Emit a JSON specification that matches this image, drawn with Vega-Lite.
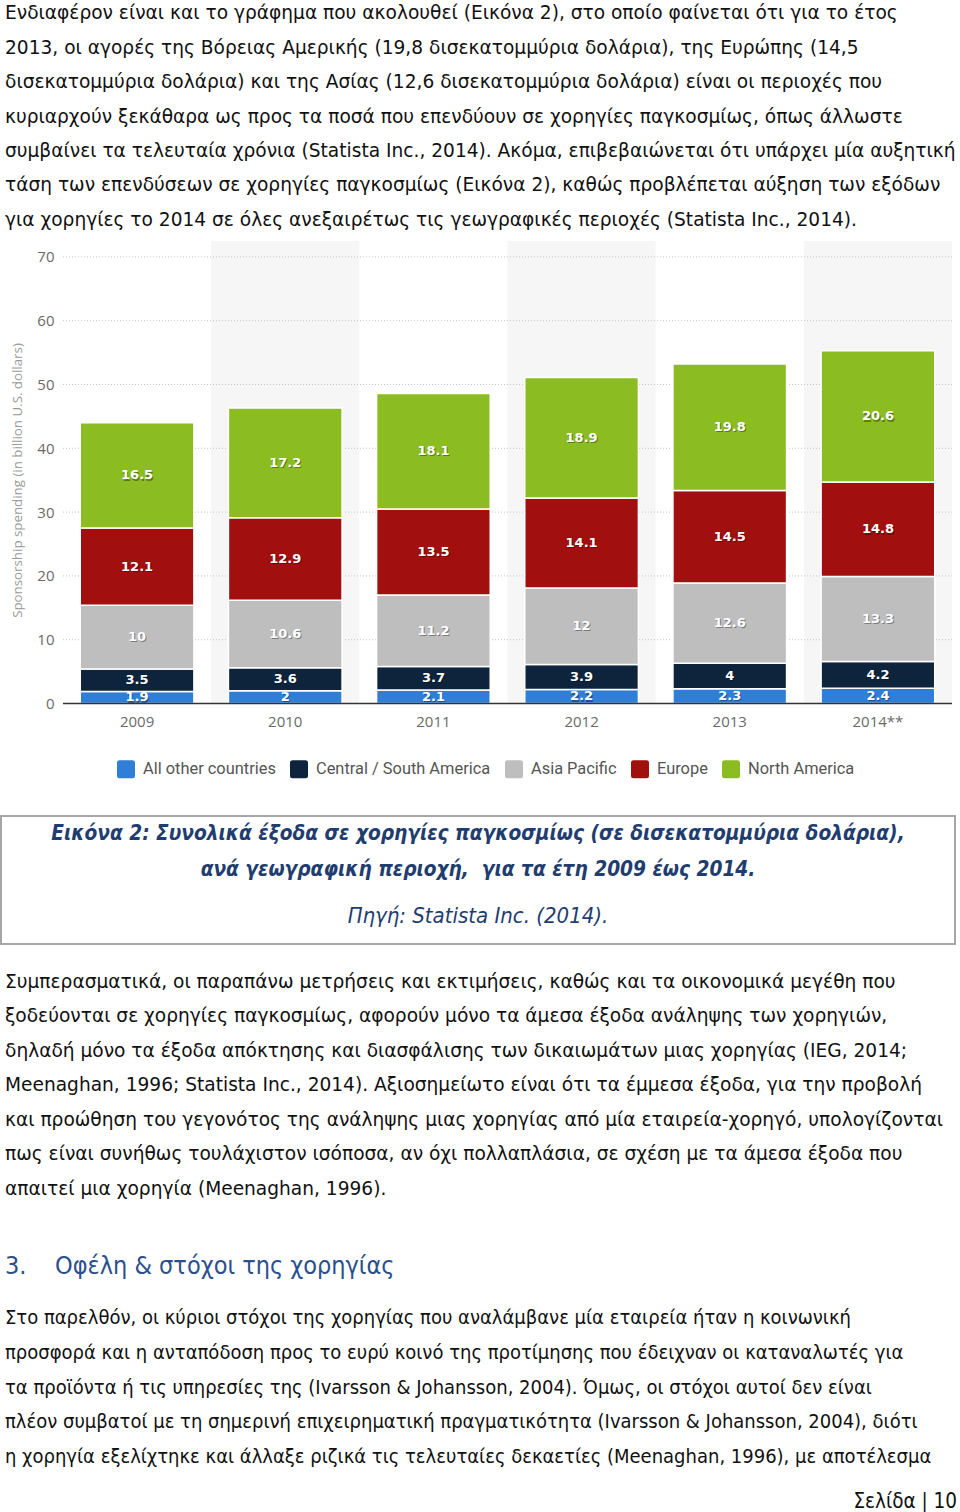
{
  "$schema": "https://vega.github.io/schema/vega-lite/v6.json",
  "background": "white",
  "padding": 0,
  "columns": 1,
  "spacing": 0,
  "resolve": {"scale": {"color": "independent"}, "legend": {"color": "independent"}},
  "config": {"view": {"stroke": null}},
  "datasets": {
    "spend": [
      {"year": "2009", "region": "All other countries", "value": 1.9},
      {"year": "2009", "region": "Central / South America", "value": 3.5},
      {"year": "2009", "region": "Asia Pacific", "value": 10},
      {"year": "2009", "region": "Europe", "value": 12.1},
      {"year": "2009", "region": "North America", "value": 16.5},
      {"year": "2010", "region": "All other countries", "value": 2},
      {"year": "2010", "region": "Central / South America", "value": 3.6},
      {"year": "2010", "region": "Asia Pacific", "value": 10.6},
      {"year": "2010", "region": "Europe", "value": 12.9},
      {"year": "2010", "region": "North America", "value": 17.2},
      {"year": "2011", "region": "All other countries", "value": 2.1},
      {"year": "2011", "region": "Central / South America", "value": 3.7},
      {"year": "2011", "region": "Asia Pacific", "value": 11.2},
      {"year": "2011", "region": "Europe", "value": 13.5},
      {"year": "2011", "region": "North America", "value": 18.1},
      {"year": "2012", "region": "All other countries", "value": 2.2},
      {"year": "2012", "region": "Central / South America", "value": 3.9},
      {"year": "2012", "region": "Asia Pacific", "value": 12},
      {"year": "2012", "region": "Europe", "value": 14.1},
      {"year": "2012", "region": "North America", "value": 18.9},
      {"year": "2013", "region": "All other countries", "value": 2.3},
      {"year": "2013", "region": "Central / South America", "value": 4},
      {"year": "2013", "region": "Asia Pacific", "value": 12.6},
      {"year": "2013", "region": "Europe", "value": 14.5},
      {"year": "2013", "region": "North America", "value": 19.8},
      {"year": "2014**", "region": "All other countries", "value": 2.4},
      {"year": "2014**", "region": "Central / South America", "value": 4.2},
      {"year": "2014**", "region": "Asia Pacific", "value": 13.3},
      {"year": "2014**", "region": "Europe", "value": 14.8},
      {"year": "2014**", "region": "North America", "value": 20.6}
    ]
  },
  "concat": [
    {
      "width": 958,
      "height": 240.8,
      "data": {"values": [
        {"line": 1, "text": "Ενδιαφέρον είναι και το γράφημα που ακολουθεί (Εικόνα 2), στο οποίο φαίνεται ότι για το έτος"},
        {"line": 2, "text": "2013, οι αγορές της Βόρειας Αμερικής (19,8 δισεκατομμύρια δολάρια), της Ευρώπης (14,5"},
        {"line": 3, "text": "δισεκατομμύρια δολάρια) και της Ασίας (12,6 δισεκατομμύρια δολάρια) είναι οι περιοχές που"},
        {"line": 4, "text": "κυριαρχούν ξεκάθαρα ως προς τα ποσά που επενδύουν σε χορηγίες παγκοσμίως, όπως άλλωστε"},
        {"line": 5, "text": "συμβαίνει τα τελευταία χρόνια (Statista Inc., 2014). Ακόμα, επιβεβαιώνεται ότι υπάρχει μία αυξητική"},
        {"line": 6, "text": "τάση των επενδύσεων σε χορηγίες παγκοσμίως (Εικόνα 2), καθώς προβλέπεται αύξηση των εξόδων"},
        {"line": 7, "text": "για χορηγίες το 2014 σε όλες ανεξαιρέτως τις γεωγραφικές περιοχές (Statista Inc., 2014)."}
      ]},
      "mark": {"type": "text", "align": "left", "baseline": "middle", "font": "DejaVu Sans", "fontSize": 18.6, "color": "#111111", "dx": 4, "dy": -3.8},
      "encoding": {
        "y": {"field": "line", "type": "ordinal", "axis": null, "scale": {"type": "band", "paddingInner": 0, "paddingOuter": 0}},
        "x": {"datum": 0, "type": "quantitative", "axis": null, "scale": {"domain": [0, 1]}},
        "text": {"field": "text"}
      }
    },
    {
      "width": 951,
      "height": 462.5,
      "encoding": {
        "x": {
          "field": "year", "type": "nominal",
          "scale": {"domain": ["2009", "2010", "2011", "2012", "2013", "2014**"], "paddingInner": 0, "paddingOuter": 0.2092, "align": 1},
          "axis": {"title": null, "labelAngle": 0, "ticks": false, "domain": false, "labelPadding": 11, "labelFont": "Open Sans", "labelFontSize": 15, "labelColor": "#6a6a6a", "grid": false}
        }
      },
      "layer": [
        {
          "data": {"values": [{"year": "2010"}, {"year": "2012"}, {"year": "2014**"}]},
          "mark": {"type": "rect", "color": "#f6f6f6"},
          "encoding": {
            "y": {"datum": 0, "type": "quantitative", "title": "Sponsorship spending (in billion U.S. dollars)"},
            "y2": {"datum": 72.49}
          }
        },
        {
          "data": {"values": [{"g": 10}, {"g": 20}, {"g": 30}, {"g": 40}, {"g": 50}, {"g": 60}, {"g": 70}]},
          "mark": {"type": "rule", "color": "#c4c4c4", "strokeDash": [1, 2], "strokeWidth": 1},
          "encoding": {
            "y": {"field": "g", "type": "quantitative", "title": "Sponsorship spending (in billion U.S. dollars)"},
            "x": {"datum": "2009", "type": "nominal", "bandPosition": 0, "title": null},
            "x2": {"value": "width"}
          }
        },
        {
          "data": {"name": "spend"},
          "transform": [
            {"calculate": "indexof(['All other countries','Central / South America','Asia Pacific','Europe','North America'], datum.region)", "as": "rank"},
            {"stack": "value", "groupby": ["year"], "sort": [{"field": "rank", "order": "ascending"}], "as": ["v0", "v1"]},
            {"calculate": "(datum.v0 + datum.v1) / 2", "as": "mid"}
          ],
          "layer": [
            {
              "mark": {"type": "bar", "width": {"band": 0.767}, "stroke": "white", "strokeWidth": 1.5},
              "encoding": {
                "y": {
                  "field": "v0", "type": "quantitative", "title": "Sponsorship spending (in billion U.S. dollars)",
                  "scale": {"domain": [0, 72.49], "nice": false, "zero": true},
                  "axis": {"values": [0, 10, 20, 30, 40, 50, 60, 70], "offset": -62, "ticks": false, "domain": false, "grid": false, "labelPadding": 9, "labelFont": "Open Sans", "labelFontSize": 15, "labelColor": "#6a6a6a", "titleFont": "Open Sans", "titleFontSize": 13.3, "titleFontWeight": "normal", "titleColor": "#9a9a9a", "titlePadding": 12, "titleY": 239}
                },
                "y2": {"field": "v1"},
                "color": {
                  "field": "region", "type": "nominal",
                  "scale": {
                    "domain": ["All other countries", "Central / South America", "Asia Pacific", "Europe", "North America"],
                    "range": ["#2f7ed8", "#0e243c", "#bebebe", "#a20f0f", "#8bbc21"]
                  },
                  "legend": {
                    "orient": "none", "legendX": 80, "legendY": 483.2, "direction": "horizontal", "title": null, "padding": 36,
                    "symbolType": "M-0.72,-1L0.72,-1Q1,-1 1,-0.72L1,0.72Q1,1 0.72,1L-0.72,1Q-1,1 -1,0.72L-1,-0.72Q-1,-1 -0.72,-1Z",
                    "symbolSize": 324, "symbolStrokeWidth": 0, "symbolOpacity": 1,
                    "labelFont": "Roboto", "labelFontSize": 16.4, "labelColor": "#555555", "labelOffset": 8, "labelLimit": 400, "columnPadding": 14
                  }
                }
              }
            },
            {
              "mark": {"type": "text", "font": "DejaVu Sans", "fontWeight": "bold", "fontSize": 13, "color": "#000000", "opacity": 0.35, "dx": 1, "dy": 1.2, "baseline": "middle"},
              "encoding": {
                "y": {"field": "mid", "type": "quantitative", "title": "Sponsorship spending (in billion U.S. dollars)"},
                "text": {"field": "value", "type": "quantitative"}
              }
            },
            {
              "mark": {"type": "text", "font": "DejaVu Sans", "fontWeight": "bold", "fontSize": 13, "color": "#ffffff", "baseline": "middle"},
              "encoding": {
                "y": {"field": "mid", "type": "quantitative", "title": "Sponsorship spending (in billion U.S. dollars)"},
                "text": {"field": "value", "type": "quantitative"}
              }
            }
          ]
        },
        {
          "data": {"values": [{"g": 0}]},
          "mark": {"type": "rule", "color": "#333333", "strokeWidth": 1.3},
          "encoding": {
            "y": {"field": "g", "type": "quantitative", "title": "Sponsorship spending (in billion U.S. dollars)"},
            "x": {"datum": "2009", "type": "nominal", "bandPosition": 0, "title": null},
            "x2": {"value": "width"}
          }
        }
      ]
    },
    {
      "width": 954,
      "height": 128,
      "view": {"stroke": "#a6a6a6", "strokeWidth": 2},
      "resolve": {"scale": {"y": "independent"}},
      "layer": [
        {
          "data": {"values": [
            {"line": 1, "text": "Εικόνα 2: Συνολικά έξοδα σε χορηγίες παγκοσμίως (σε δισεκατομμύρια δολάρια),"},
            {"line": 2, "text": "ανά γεωγραφική περιοχή,\u00a0 για τα έτη 2009 έως 2014."}
          ]},
          "mark": {"type": "text", "align": "center", "baseline": "middle", "font": "DejaVu Sans Condensed, Liberation Sans Narrow, DejaVu Sans", "fontSize": 20.7, "fontWeight": "bold", "fontStyle": "italic", "color": "#1f3d6f"},
          "encoding": {
            "y": {"field": "line", "type": "ordinal", "axis": null, "scale": {"type": "band", "paddingInner": 0, "paddingOuter": 0.7927, "align": 0}},
            "x": {"datum": 0.5, "type": "quantitative", "axis": null, "scale": {"domain": [0, 1]}},
            "text": {"field": "text"}
          }
        },
        {
          "data": {"values": [{"line": 1, "text": "Πηγή: Statista Inc. (2014)."}]},
          "mark": {"type": "text", "align": "center", "baseline": "middle", "font": "DejaVu Sans Condensed, Liberation Sans Narrow, DejaVu Sans", "fontSize": 22, "fontStyle": "italic", "color": "#1f3d6f"},
          "encoding": {
            "y": {"field": "line", "type": "ordinal", "axis": null, "scale": {"type": "band", "paddingInner": 0, "paddingOuter": 1, "align": 0.923}},
            "x": {"datum": 0.5, "type": "quantitative", "axis": null, "scale": {"domain": [0, 1]}},
            "text": {"field": "text"}
          }
        }
      ]
    },
    {
      "width": 958,
      "height": 260.85,
      "data": {"values": [
        {"line": 1, "text": "Συμπερασματικά, οι παραπάνω μετρήσεις και εκτιμήσεις, καθώς και τα οικονομικά μεγέθη που"},
        {"line": 2, "text": "ξοδεύονται σε χορηγίες παγκοσμίως, αφορούν μόνο τα άμεσα έξοδα ανάληψης των χορηγιών,"},
        {"line": 3, "text": "δηλαδή μόνο τα έξοδα απόκτησης και διασφάλισης των δικαιωμάτων μιας χορηγίας (IEG, 2014;"},
        {"line": 4, "text": "Meenaghan, 1996; Statista Inc., 2014). Αξιοσημείωτο είναι ότι τα έμμεσα έξοδα, για την προβολή"},
        {"line": 5, "text": "και προώθηση του γεγονότος της ανάληψης μιας χορηγίας από μία εταιρεία-χορηγό, υπολογίζονται"},
        {"line": 6, "text": "πως είναι συνήθως τουλάχιστον ισόποσα, αν όχι πολλαπλάσια, σε σχέση με τα άμεσα έξοδα που"},
        {"line": 7, "text": "απαιτεί μια χορηγία (Meenaghan, 1996)."}
      ]},
      "mark": {"type": "text", "align": "left", "baseline": "middle", "font": "DejaVu Sans", "fontSize": 18.6, "color": "#111111", "dx": 4},
      "encoding": {
        "y": {"field": "line", "type": "ordinal", "axis": null, "scale": {"type": "band", "paddingInner": 0, "paddingOuter": 0.2804, "align": 1}},
        "x": {"datum": 0, "type": "quantitative", "axis": null, "scale": {"domain": [0, 1]}},
        "text": {"field": "text"}
      }
    },
    {
      "width": 958,
      "height": 75,
      "data": {"values": [{"line": 1, "text": "3.\u00a0\u00a0\u00a0\u00a0Οφέλη & στόχοι της χορηγίας"}]},
      "mark": {"type": "text", "align": "left", "baseline": "middle", "font": "DejaVu Sans Condensed, Liberation Sans Narrow, DejaVu Sans", "fontSize": 25, "color": "#2b4f8c", "dx": 4},
      "encoding": {
        "y": {"field": "line", "type": "ordinal", "axis": null, "scale": {"type": "band", "paddingInner": 0, "paddingOuter": 0.7215, "align": 1}},
        "x": {"datum": 0, "type": "quantitative", "axis": null, "scale": {"domain": [0, 1]}},
        "text": {"field": "text"}
      }
    },
    {
      "width": 958,
      "height": 193.52,
      "data": {"values": [
        {"line": 1, "text": "Στο παρελθόν, οι κύριοι στόχοι της χορηγίας που αναλάμβανε μία εταιρεία ήταν η κοινωνική"},
        {"line": 2, "text": "προσφορά και η ανταπόδοση προς το ευρύ κοινό της προτίμησης που έδειχναν οι καταναλωτές για"},
        {"line": 3, "text": "τα προϊόντα ή τις υπηρεσίες της (Ivarsson & Johansson, 2004). Όμως, οι στόχοι αυτοί δεν είναι"},
        {"line": 4, "text": "πλέον συμβατοί με τη σημερινή επιχειρηματική πραγματικότητα (Ivarsson & Johansson, 2004), διότι"},
        {"line": 5, "text": "η χορηγία εξελίχτηκε και άλλαξε ριζικά τις τελευταίες δεκαετίες (Meenaghan, 1996), με αποτέλεσμα"}
      ]},
      "mark": {"type": "text", "align": "left", "baseline": "middle", "font": "DejaVu Sans Condensed, Liberation Sans Narrow, DejaVu Sans", "fontSize": 20, "color": "#111111", "dx": 4},
      "encoding": {
        "y": {"field": "line", "type": "ordinal", "axis": null, "scale": {"type": "band", "paddingInner": 0, "paddingOuter": 0.2845, "align": 1}},
        "x": {"datum": 0, "type": "quantitative", "axis": null, "scale": {"domain": [0, 1]}},
        "text": {"field": "text"}
      }
    },
    {
      "width": 958,
      "height": 38.6,
      "data": {"values": [{"line": 1, "text": "Σελίδα | 10"}]},
      "mark": {"type": "text", "align": "right", "baseline": "middle", "font": "DejaVu Sans Condensed, Liberation Sans Narrow, DejaVu Sans", "fontSize": 20.5, "color": "#111111", "dx": -2},
      "encoding": {
        "y": {"field": "line", "type": "ordinal", "axis": null, "scale": {"type": "band", "paddingInner": 0, "paddingOuter": 0.306, "align": 1}},
        "x": {"datum": 1, "type": "quantitative", "axis": null, "scale": {"domain": [0, 1]}},
        "text": {"field": "text"}
      }
    }
  ]
}
